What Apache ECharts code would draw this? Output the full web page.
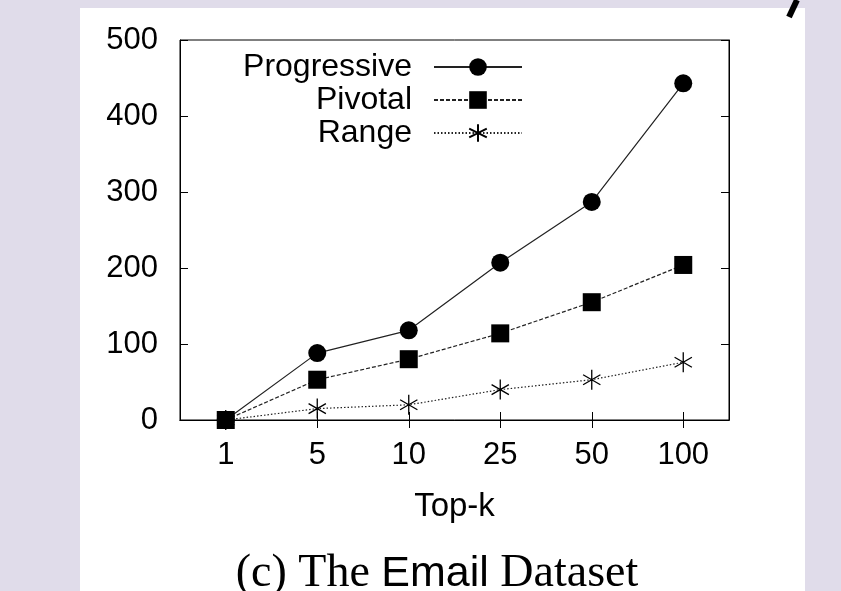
<!DOCTYPE html>
<html>
<head>
<meta charset="utf-8">
<script src="https://cdn.jsdelivr.net/npm/echarts@6/dist/echarts.min.js"></script>
<style>
html,body{margin:0;padding:0;background:#e0dcea;}
#c{width:841px;height:591px;}
</style>
</head>
<body>
<div id="c"></div>
<script>
const categories = ['1', '5', '10', '25', '50', '100'];
const progressive = [0, 88, 118, 207, 287, 443];
const pivotal = [0, 53, 80, 114, 155, 204];
const range = [0, 15, 20, 40, 53, 76];
const yTicks = [0, 100, 200, 300, 400, 500];

const asterisk = 'path://M10,0 L10,20 M1.34,5 L18.66,15 M1.34,15 L18.66,5';
const axisFont = {fontFamily: 'Liberation Sans, Arial, sans-serif', fontSize: 31, color: '#000'};

const chart = echarts.init(document.getElementById('c'), null, {renderer: 'canvas'});
chart.setOption({
  animation: false,
  backgroundColor: '#e0dcea',
  graphic: [
    {type: 'rect', z: -10, shape: {x: 80, y: 8, width: 725, height: 583}, style: {fill: '#ffffff'}},
    {type: 'line', z: -5, shape: {x1: 797, y1: 0, x2: 789, y2: 17}, style: {stroke: '#000', lineWidth: 6}}
  ],
  title: {
    text: '{s|(c) The }{a|Email}{s| Dataset}',
    left: 432, top: 546, textAlign: 'center',
    textStyle: {
      fontWeight: 'normal',
      rich: {
        s: {fontFamily: 'Liberation Serif, Times New Roman, serif', fontSize: 46, fontWeight: 'normal', color: '#000'},
        a: {fontFamily: 'Liberation Sans, Arial, sans-serif', fontSize: 43, fontWeight: 'normal', color: '#000'}
      }
    }
  },
  legend: {
    orient: 'vertical',
    align: 'right',
    right: 841 - 528,
    top: 46,
    itemWidth: 88,
    itemHeight: 22,
    itemGap: 1,
    textStyle: Object.assign({}, axisFont, {fontSize: 32, lineHeight: 32, padding: [0, 17, 0, 0]}),
    data: ['Progressive', 'Pivotal', 'Range']
  },
  grid: {left: 180, right: 112, top: 40, bottom: 171, show: true, borderColor: '#000', borderWidth: 1},
  xAxis: [
    {
      type: 'category', data: categories, position: 'bottom', boundaryGap: true,
      name: 'Top-k', nameLocation: 'middle', nameGap: 70,
      nameTextStyle: Object.assign({}, axisFont, {fontSize: 33}),
      axisLine: {show: true, lineStyle: {color: '#000', width: 1}},
      axisTick: {show: true, inside: true, alignWithLabel: true, length: 8, lineStyle: {color: '#000'}},
      axisLabel: Object.assign({margin: 20}, axisFont),
      splitLine: {show: false}
    },
    {
      type: 'category', data: categories, position: 'top', boundaryGap: true,
      axisLine: {show: true, lineStyle: {color: '#000', width: 1}},
      axisTick: {show: true, inside: true, alignWithLabel: true, length: 8, lineStyle: {color: '#000'}},
      axisLabel: {show: false},
      splitLine: {show: false}
    }
  ],
  yAxis: [
    {
      type: 'value', min: yTicks[0], max: yTicks[yTicks.length - 1], interval: 100, position: 'left',
      axisLine: {show: true, lineStyle: {color: '#000', width: 1}},
      axisTick: {show: true, inside: true, length: 8, lineStyle: {color: '#000'}},
      axisLabel: Object.assign({margin: 22}, axisFont),
      splitLine: {show: false}
    },
    {
      type: 'value', min: yTicks[0], max: yTicks[yTicks.length - 1], interval: 100, position: 'right',
      axisLine: {show: true, lineStyle: {color: '#000', width: 1}},
      axisTick: {show: true, inside: true, length: 8, lineStyle: {color: '#000'}},
      axisLabel: {show: false},
      splitLine: {show: false}
    }
  ],
  series: [
    {
      name: 'Progressive', type: 'line', data: progressive,
      symbol: 'circle', symbolSize: 18,
      lineStyle: {color: '#222', width: 1.2, type: 'solid'},
      itemStyle: {color: '#000'}
    },
    {
      name: 'Pivotal', type: 'line', data: pivotal,
      symbol: 'rect', symbolSize: 18,
      lineStyle: {color: '#222', width: 1.2, type: [4, 2]},
      itemStyle: {color: '#000'}
    },
    {
      name: 'Range', type: 'line', data: range,
      symbol: asterisk, symbolSize: 20, symbolKeepAspect: true,
      lineStyle: {color: '#222', width: 1.2, type: [1.5, 2]},
      itemStyle: {color: 'rgba(0,0,0,0)', borderColor: '#000', borderWidth: 1.3}
    }
  ]
});
</script>
</body>
</html>
